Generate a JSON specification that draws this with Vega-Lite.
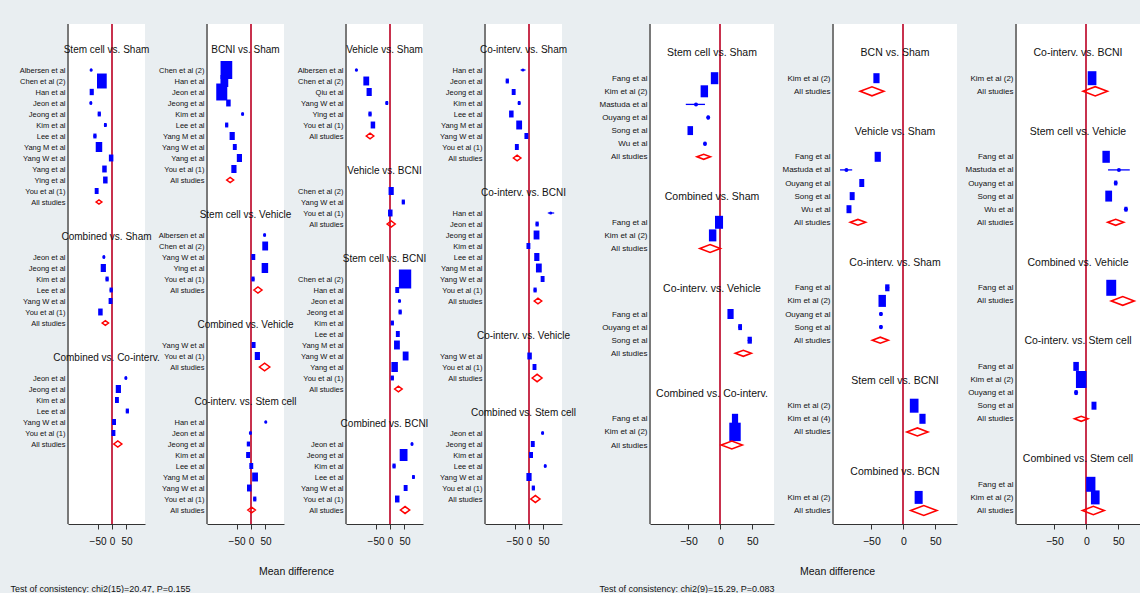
{
  "$schema": "https://vega.github.io/schema/vega-lite/v6.json",
  "background": "#e9eef1",
  "padding": {"left": 10, "top": 23, "right": 0, "bottom": 0},
  "data": {"values": [
    {"p":"L1","g":"Stem cell vs. Sham","s":"","t":"title"},
    {"p":"L1","g":"Stem cell vs. Sham","s":"gap1","t":"gap"},
    {"p":"L1","g":"Stem cell vs. Sham","s":"Albersen et al","t":"study","md":-72,"w":2},
    {"p":"L1","g":"Stem cell vs. Sham","s":"Chen et al (2)","t":"study","md":-35,"w":56},
    {"p":"L1","g":"Stem cell vs. Sham","s":"Han et al","t":"study","md":-70,"w":10},
    {"p":"L1","g":"Stem cell vs. Sham","s":"Jeon et al","t":"study","md":-73,"w":3},
    {"p":"L1","g":"Stem cell vs. Sham","s":"Jeong et al","t":"study","md":-44,"w":6},
    {"p":"L1","g":"Stem cell vs. Sham","s":"Kim et al","t":"study","md":-23,"w":4},
    {"p":"L1","g":"Stem cell vs. Sham","s":"Lee et al","t":"study","md":-59,"w":6},
    {"p":"L1","g":"Stem cell vs. Sham","s":"Yang M et al","t":"study","md":-45,"w":25},
    {"p":"L1","g":"Stem cell vs. Sham","s":"Yang W et al","t":"study","md":-3,"w":12},
    {"p":"L1","g":"Stem cell vs. Sham","s":"Yang et al","t":"study","md":-26,"w":12},
    {"p":"L1","g":"Stem cell vs. Sham","s":"Ying et al","t":"study","md":-23,"w":12},
    {"p":"L1","g":"Stem cell vs. Sham","s":"You et al (1)","t":"study","md":-53,"w":9},
    {"p":"L1","g":"Stem cell vs. Sham","s":"All studies","t":"pooled","md":-45,"lo":-55,"hi":-35},
    {"p":"L1","g":"Stem cell vs. Sham","s":"gap2","t":"gap"},
    {"p":"L1","g":"Stem cell vs. Sham","s":"gap3","t":"gap"},
    {"p":"L1","g":"Combined vs. Sham","s":"","t":"title"},
    {"p":"L1","g":"Combined vs. Sham","s":"gap1","t":"gap"},
    {"p":"L1","g":"Combined vs. Sham","s":"Jeon et al","t":"study","md":-28,"w":3},
    {"p":"L1","g":"Combined vs. Sham","s":"Jeong et al","t":"study","md":-30,"w":16},
    {"p":"L1","g":"Combined vs. Sham","s":"Kim et al","t":"study","md":-17,"w":6},
    {"p":"L1","g":"Combined vs. Sham","s":"Lee et al","t":"study","md":-3,"w":6},
    {"p":"L1","g":"Combined vs. Sham","s":"Yang W et al","t":"study","md":-5,"w":9},
    {"p":"L1","g":"Combined vs. Sham","s":"You et al (1)","t":"study","md":-40,"w":12},
    {"p":"L1","g":"Combined vs. Sham","s":"All studies","t":"pooled","md":-23,"lo":-34,"hi":-12},
    {"p":"L1","g":"Combined vs. Sham","s":"gap2","t":"gap"},
    {"p":"L1","g":"Combined vs. Sham","s":"gap3","t":"gap"},
    {"p":"L1","g":"Combined vs. Co-interv.","s":"","t":"title"},
    {"p":"L1","g":"Combined vs. Co-interv.","s":"gap1","t":"gap"},
    {"p":"L1","g":"Combined vs. Co-interv.","s":"Jeon et al","t":"study","md":48,"w":3},
    {"p":"L1","g":"Combined vs. Co-interv.","s":"Jeong et al","t":"study","md":22,"w":16},
    {"p":"L1","g":"Combined vs. Co-interv.","s":"Kim et al","t":"study","md":17,"w":9},
    {"p":"L1","g":"Combined vs. Co-interv.","s":"Lee et al","t":"study","md":53,"w":6},
    {"p":"L1","g":"Combined vs. Co-interv.","s":"Yang W et al","t":"study","md":7,"w":9},
    {"p":"L1","g":"Combined vs. Co-interv.","s":"You et al (1)","t":"study","md":5,"w":9},
    {"p":"L1","g":"Combined vs. Co-interv.","s":"All studies","t":"pooled","md":20,"lo":6,"hi":34},

    {"p":"L2","g":"BCNI vs. Sham","s":"","t":"title"},
    {"p":"L2","g":"BCNI vs. Sham","s":"gap1","t":"gap"},
    {"p":"L2","g":"BCNI vs. Sham","s":"Chen et al (2)","t":"study","md":-85,"w":81},
    {"p":"L2","g":"BCNI vs. Sham","s":"Han et al","t":"study","md":-92,"w":36},
    {"p":"L2","g":"BCNI vs. Sham","s":"Jeon et al","t":"study","md":-101,"w":72},
    {"p":"L2","g":"BCNI vs. Sham","s":"Jeong et al","t":"study","md":-78,"w":12},
    {"p":"L2","g":"BCNI vs. Sham","s":"Kim et al","t":"study","md":-29,"w":3},
    {"p":"L2","g":"BCNI vs. Sham","s":"Lee et al","t":"study","md":-84,"w":6},
    {"p":"L2","g":"BCNI vs. Sham","s":"Yang M et al","t":"study","md":-65,"w":16},
    {"p":"L2","g":"BCNI vs. Sham","s":"Yang W et al","t":"study","md":-56,"w":9},
    {"p":"L2","g":"BCNI vs. Sham","s":"Yang et al","t":"study","md":-40,"w":16},
    {"p":"L2","g":"BCNI vs. Sham","s":"You et al (1)","t":"study","md":-59,"w":16},
    {"p":"L2","g":"BCNI vs. Sham","s":"All studies","t":"pooled","md":-72,"lo":-84,"hi":-60},
    {"p":"L2","g":"BCNI vs. Sham","s":"gap2","t":"gap"},
    {"p":"L2","g":"BCNI vs. Sham","s":"gap3","t":"gap"},
    {"p":"L2","g":"Stem cell vs. Vehicle","s":"","t":"title"},
    {"p":"L2","g":"Stem cell vs. Vehicle","s":"gap1","t":"gap"},
    {"p":"L2","g":"Stem cell vs. Vehicle","s":"Albersen et al","t":"study","md":47,"w":3},
    {"p":"L2","g":"Stem cell vs. Vehicle","s":"Chen et al (2)","t":"study","md":49,"w":20},
    {"p":"L2","g":"Stem cell vs. Vehicle","s":"Yang W et al","t":"study","md":8,"w":9},
    {"p":"L2","g":"Stem cell vs. Vehicle","s":"Ying et al","t":"study","md":48,"w":25},
    {"p":"L2","g":"Stem cell vs. Vehicle","s":"You et al (1)","t":"study","md":7,"w":6},
    {"p":"L2","g":"Stem cell vs. Vehicle","s":"All studies","t":"pooled","md":24,"lo":10,"hi":38},
    {"p":"L2","g":"Stem cell vs. Vehicle","s":"gap2","t":"gap"},
    {"p":"L2","g":"Stem cell vs. Vehicle","s":"gap3","t":"gap"},
    {"p":"L2","g":"Combined vs. Vehicle","s":"","t":"title"},
    {"p":"L2","g":"Combined vs. Vehicle","s":"gap1","t":"gap"},
    {"p":"L2","g":"Combined vs. Vehicle","s":"Yang W et al","t":"study","md":9,"w":9},
    {"p":"L2","g":"Combined vs. Vehicle","s":"You et al (1)","t":"study","md":22,"w":16},
    {"p":"L2","g":"Combined vs. Vehicle","s":"All studies","t":"pooled","md":47,"lo":29,"hi":65},
    {"p":"L2","g":"Combined vs. Vehicle","s":"gap2","t":"gap"},
    {"p":"L2","g":"Combined vs. Vehicle","s":"gap3","t":"gap"},
    {"p":"L2","g":"Co-interv. vs. Stem cell","s":"","t":"title"},
    {"p":"L2","g":"Co-interv. vs. Stem cell","s":"gap1","t":"gap"},
    {"p":"L2","g":"Co-interv. vs. Stem cell","s":"Han et al","t":"study","md":51,"w":2},
    {"p":"L2","g":"Co-interv. vs. Stem cell","s":"Jeon et al","t":"study","md":-2,"w":3},
    {"p":"L2","g":"Co-interv. vs. Stem cell","s":"Jeong et al","t":"study","md":-9,"w":6},
    {"p":"L2","g":"Co-interv. vs. Stem cell","s":"Kim et al","t":"study","md":-10,"w":9},
    {"p":"L2","g":"Co-interv. vs. Stem cell","s":"Lee et al","t":"study","md":1,"w":9},
    {"p":"L2","g":"Co-interv. vs. Stem cell","s":"Yang M et al","t":"study","md":14,"w":20},
    {"p":"L2","g":"Co-interv. vs. Stem cell","s":"Yang W et al","t":"study","md":-6,"w":12},
    {"p":"L2","g":"Co-interv. vs. Stem cell","s":"You et al (1)","t":"study","md":13,"w":6},
    {"p":"L2","g":"Co-interv. vs. Stem cell","s":"All studies","t":"pooled","md":2,"lo":-11,"hi":15},

    {"p":"L3","g":"Vehicle vs. Sham","s":"","t":"title"},
    {"p":"L3","g":"Vehicle vs. Sham","s":"gap1","t":"gap"},
    {"p":"L3","g":"Vehicle vs. Sham","s":"Albersen et al","t":"study","md":-116,"w":2},
    {"p":"L3","g":"Vehicle vs. Sham","s":"Chen et al (2)","t":"study","md":-82,"w":20},
    {"p":"L3","g":"Vehicle vs. Sham","s":"Qiu et al","t":"study","md":-72,"w":16},
    {"p":"L3","g":"Vehicle vs. Sham","s":"Yang W et al","t":"study","md":-11,"w":4},
    {"p":"L3","g":"Vehicle vs. Sham","s":"Ying et al","t":"study","md":-69,"w":6},
    {"p":"L3","g":"Vehicle vs. Sham","s":"You et al (1)","t":"study","md":-59,"w":12},
    {"p":"L3","g":"Vehicle vs. Sham","s":"All studies","t":"pooled","md":-69,"lo":-82,"hi":-56},
    {"p":"L3","g":"Vehicle vs. Sham","s":"gap2","t":"gap"},
    {"p":"L3","g":"Vehicle vs. Sham","s":"gap3","t":"gap"},
    {"p":"L3","g":"Vehicle vs. BCNI","s":"","t":"title"},
    {"p":"L3","g":"Vehicle vs. BCNI","s":"gap1","t":"gap"},
    {"p":"L3","g":"Vehicle vs. BCNI","s":"Chen et al (2)","t":"study","md":4,"w":16},
    {"p":"L3","g":"Vehicle vs. BCNI","s":"Yang W et al","t":"study","md":46,"w":6},
    {"p":"L3","g":"Vehicle vs. BCNI","s":"You et al (1)","t":"study","md":1,"w":12},
    {"p":"L3","g":"Vehicle vs. BCNI","s":"All studies","t":"pooled","md":4,"lo":-10,"hi":18},
    {"p":"L3","g":"Vehicle vs. BCNI","s":"gap2","t":"gap"},
    {"p":"L3","g":"Vehicle vs. BCNI","s":"gap3","t":"gap"},
    {"p":"L3","g":"Stem cell vs. BCNI","s":"","t":"title"},
    {"p":"L3","g":"Stem cell vs. BCNI","s":"gap1","t":"gap"},
    {"p":"L3","g":"Stem cell vs. BCNI","s":"Chen et al (2)","t":"study","md":52,"w":90},
    {"p":"L3","g":"Stem cell vs. BCNI","s":"Han et al","t":"study","md":25,"w":9},
    {"p":"L3","g":"Stem cell vs. BCNI","s":"Jeon et al","t":"study","md":33,"w":3},
    {"p":"L3","g":"Stem cell vs. BCNI","s":"Jeong et al","t":"study","md":35,"w":6},
    {"p":"L3","g":"Stem cell vs. BCNI","s":"Kim et al","t":"study","md":8,"w":6},
    {"p":"L3","g":"Stem cell vs. BCNI","s":"Lee et al","t":"study","md":27,"w":9},
    {"p":"L3","g":"Stem cell vs. BCNI","s":"Yang M et al","t":"study","md":24,"w":20},
    {"p":"L3","g":"Stem cell vs. BCNI","s":"Yang W et al","t":"study","md":54,"w":20},
    {"p":"L3","g":"Stem cell vs. BCNI","s":"Yang et al","t":"study","md":16,"w":25},
    {"p":"L3","g":"Stem cell vs. BCNI","s":"You et al (1)","t":"study","md":8,"w":6},
    {"p":"L3","g":"Stem cell vs. BCNI","s":"All studies","t":"pooled","md":29,"lo":16,"hi":42},
    {"p":"L3","g":"Stem cell vs. BCNI","s":"gap2","t":"gap"},
    {"p":"L3","g":"Stem cell vs. BCNI","s":"gap3","t":"gap"},
    {"p":"L3","g":"Combined vs. BCNI","s":"","t":"title"},
    {"p":"L3","g":"Combined vs. BCNI","s":"gap1","t":"gap"},
    {"p":"L3","g":"Combined vs. BCNI","s":"Jeon et al","t":"study","md":76,"w":3},
    {"p":"L3","g":"Combined vs. BCNI","s":"Jeong et al","t":"study","md":47,"w":36},
    {"p":"L3","g":"Combined vs. BCNI","s":"Kim et al","t":"study","md":14,"w":6},
    {"p":"L3","g":"Combined vs. BCNI","s":"Lee et al","t":"study","md":81,"w":4},
    {"p":"L3","g":"Combined vs. BCNI","s":"Yang W et al","t":"study","md":54,"w":9},
    {"p":"L3","g":"Combined vs. BCNI","s":"You et al (1)","t":"study","md":25,"w":12},
    {"p":"L3","g":"Combined vs. BCNI","s":"All studies","t":"pooled","md":52,"lo":36,"hi":68},

    {"p":"L4","g":"Co-interv. vs. Sham","s":"","t":"title"},
    {"p":"L4","g":"Co-interv. vs. Sham","s":"gap1","t":"gap"},
    {"p":"L4","g":"Co-interv. vs. Sham","s":"Han et al","t":"study","md":-21,"w":1,"lo":-29,"hi":-12},
    {"p":"L4","g":"Co-interv. vs. Sham","s":"Jeon et al","t":"study","md":-75,"w":6},
    {"p":"L4","g":"Co-interv. vs. Sham","s":"Jeong et al","t":"study","md":-53,"w":9},
    {"p":"L4","g":"Co-interv. vs. Sham","s":"Kim et al","t":"study","md":-34,"w":4},
    {"p":"L4","g":"Co-interv. vs. Sham","s":"Lee et al","t":"study","md":-61,"w":12},
    {"p":"L4","g":"Co-interv. vs. Sham","s":"Yang M et al","t":"study","md":-34,"w":20},
    {"p":"L4","g":"Co-interv. vs. Sham","s":"Yang W et al","t":"study","md":-9,"w":9},
    {"p":"L4","g":"Co-interv. vs. Sham","s":"You et al (1)","t":"study","md":-42,"w":9},
    {"p":"L4","g":"Co-interv. vs. Sham","s":"All studies","t":"pooled","md":-41,"lo":-54,"hi":-28},
    {"p":"L4","g":"Co-interv. vs. Sham","s":"gap2","t":"gap"},
    {"p":"L4","g":"Co-interv. vs. Sham","s":"gap3","t":"gap"},
    {"p":"L4","g":"Co-interv. vs. BCNI","s":"","t":"title"},
    {"p":"L4","g":"Co-interv. vs. BCNI","s":"gap1","t":"gap"},
    {"p":"L4","g":"Co-interv. vs. BCNI","s":"Han et al","t":"study","md":75,"w":1,"lo":65,"hi":87},
    {"p":"L4","g":"Co-interv. vs. BCNI","s":"Jeon et al","t":"study","md":28,"w":6},
    {"p":"L4","g":"Co-interv. vs. BCNI","s":"Jeong et al","t":"study","md":26,"w":20},
    {"p":"L4","g":"Co-interv. vs. BCNI","s":"Kim et al","t":"study","md":-2,"w":9},
    {"p":"L4","g":"Co-interv. vs. BCNI","s":"Lee et al","t":"study","md":27,"w":16},
    {"p":"L4","g":"Co-interv. vs. BCNI","s":"Yang M et al","t":"study","md":34,"w":20},
    {"p":"L4","g":"Co-interv. vs. BCNI","s":"Yang W et al","t":"study","md":47,"w":9},
    {"p":"L4","g":"Co-interv. vs. BCNI","s":"You et al (1)","t":"study","md":21,"w":6},
    {"p":"L4","g":"Co-interv. vs. BCNI","s":"All studies","t":"pooled","md":31,"lo":18,"hi":44},
    {"p":"L4","g":"Co-interv. vs. BCNI","s":"gap2","t":"gap"},
    {"p":"L4","g":"Co-interv. vs. BCNI","s":"gap3","t":"gap"},
    {"p":"L4","g":"Co-interv. vs. Vehicle","s":"","t":"title"},
    {"p":"L4","g":"Co-interv. vs. Vehicle","s":"gap1","t":"gap"},
    {"p":"L4","g":"Co-interv. vs. Vehicle","s":"Yang W et al","t":"study","md":2,"w":12},
    {"p":"L4","g":"Co-interv. vs. Vehicle","s":"You et al (1)","t":"study","md":19,"w":9},
    {"p":"L4","g":"Co-interv. vs. Vehicle","s":"All studies","t":"pooled","md":28,"lo":11,"hi":45},
    {"p":"L4","g":"Co-interv. vs. Vehicle","s":"gap2","t":"gap"},
    {"p":"L4","g":"Co-interv. vs. Vehicle","s":"gap3","t":"gap"},
    {"p":"L4","g":"Combined vs. Stem cell","s":"","t":"title"},
    {"p":"L4","g":"Combined vs. Stem cell","s":"gap1","t":"gap"},
    {"p":"L4","g":"Combined vs. Stem cell","s":"Jeon et al","t":"study","md":47,"w":3},
    {"p":"L4","g":"Combined vs. Stem cell","s":"Jeong et al","t":"study","md":13,"w":9},
    {"p":"L4","g":"Combined vs. Stem cell","s":"Kim et al","t":"study","md":7,"w":9},
    {"p":"L4","g":"Combined vs. Stem cell","s":"Lee et al","t":"study","md":56,"w":3},
    {"p":"L4","g":"Combined vs. Stem cell","s":"Yang W et al","t":"study","md":0,"w":16},
    {"p":"L4","g":"Combined vs. Stem cell","s":"You et al (1)","t":"study","md":15,"w":6},
    {"p":"L4","g":"Combined vs. Stem cell","s":"All studies","t":"pooled","md":22,"lo":6,"hi":38},

    {"p":"R1","g":"Stem cell vs. Sham","s":"","t":"title"},
    {"p":"R1","g":"Stem cell vs. Sham","s":"gap1","t":"gap"},
    {"p":"R1","g":"Stem cell vs. Sham","s":"Fang et al","t":"study","md":-9,"w":36},
    {"p":"R1","g":"Stem cell vs. Sham","s":"Kim et al (2)","t":"study","md":-25,"w":36},
    {"p":"R1","g":"Stem cell vs. Sham","s":"Mastuda et al","t":"study","md":-38,"w":1,"lo":-54,"hi":-24},
    {"p":"R1","g":"Stem cell vs. Sham","s":"Ouyang et al","t":"study","md":-19,"w":4},
    {"p":"R1","g":"Stem cell vs. Sham","s":"Song et al","t":"study","md":-47,"w":20},
    {"p":"R1","g":"Stem cell vs. Sham","s":"Wu et al","t":"study","md":-24,"w":4},
    {"p":"R1","g":"Stem cell vs. Sham","s":"All studies","t":"pooled","md":-26,"lo":-37,"hi":-16},
    {"p":"R1","g":"Stem cell vs. Sham","s":"gap2","t":"gap"},
    {"p":"R1","g":"Stem cell vs. Sham","s":"gap3","t":"gap"},
    {"p":"R1","g":"Combined vs. Sham","s":"","t":"title"},
    {"p":"R1","g":"Combined vs. Sham","s":"gap1","t":"gap"},
    {"p":"R1","g":"Combined vs. Sham","s":"Fang et al","t":"study","md":-2,"w":42},
    {"p":"R1","g":"Combined vs. Sham","s":"Kim et al (2)","t":"study","md":-12,"w":36},
    {"p":"R1","g":"Combined vs. Sham","s":"All studies","t":"pooled","md":-16,"lo":-32,"hi":0},
    {"p":"R1","g":"Combined vs. Sham","s":"gap2","t":"gap"},
    {"p":"R1","g":"Combined vs. Sham","s":"gap3","t":"gap"},
    {"p":"R1","g":"Co-interv. vs. Vehicle","s":"","t":"title"},
    {"p":"R1","g":"Co-interv. vs. Vehicle","s":"gap1","t":"gap"},
    {"p":"R1","g":"Co-interv. vs. Vehicle","s":"Fang et al","t":"study","md":16,"w":25},
    {"p":"R1","g":"Co-interv. vs. Vehicle","s":"Ouyang et al","t":"study","md":31,"w":9},
    {"p":"R1","g":"Co-interv. vs. Vehicle","s":"Song et al","t":"study","md":46,"w":12},
    {"p":"R1","g":"Co-interv. vs. Vehicle","s":"All studies","t":"pooled","md":36,"lo":24,"hi":49},
    {"p":"R1","g":"Co-interv. vs. Vehicle","s":"gap2","t":"gap"},
    {"p":"R1","g":"Co-interv. vs. Vehicle","s":"gap3","t":"gap"},
    {"p":"R1","g":"Combined vs. Co-interv.","s":"","t":"title"},
    {"p":"R1","g":"Combined vs. Co-interv.","s":"gap1","t":"gap"},
    {"p":"R1","g":"Combined vs. Co-interv.","s":"Fang et al","t":"study","md":23,"w":25},
    {"p":"R1","g":"Combined vs. Co-interv.","s":"Kim et al (2)","t":"study","md":23,"w":85},
    {"p":"R1","g":"Combined vs. Co-interv.","s":"All studies","t":"pooled","md":18,"lo":4,"hi":37},

    {"p":"R2","g":"BCN vs. Sham","s":"","t":"title"},
    {"p":"R2","g":"BCN vs. Sham","s":"gap1","t":"gap"},
    {"p":"R2","g":"BCN vs. Sham","s":"Kim et al (2)","t":"study","md":-42,"w":25},
    {"p":"R2","g":"BCN vs. Sham","s":"All studies","t":"pooled","md":-49,"lo":-67,"hi":-30},
    {"p":"R2","g":"BCN vs. Sham","s":"gap2","t":"gap"},
    {"p":"R2","g":"BCN vs. Sham","s":"gap3","t":"gap"},
    {"p":"R2","g":"Vehicle vs. Sham","s":"","t":"title"},
    {"p":"R2","g":"Vehicle vs. Sham","s":"gap1","t":"gap"},
    {"p":"R2","g":"Vehicle vs. Sham","s":"Fang et al","t":"study","md":-40,"w":25},
    {"p":"R2","g":"Vehicle vs. Sham","s":"Mastuda et al","t":"study","md":-89,"w":1,"lo":-99,"hi":-80},
    {"p":"R2","g":"Vehicle vs. Sham","s":"Ouyang et al","t":"study","md":-65,"w":16},
    {"p":"R2","g":"Vehicle vs. Sham","s":"Song et al","t":"study","md":-80,"w":16},
    {"p":"R2","g":"Vehicle vs. Sham","s":"Wu et al","t":"study","md":-85,"w":16},
    {"p":"R2","g":"Vehicle vs. Sham","s":"All studies","t":"pooled","md":-71,"lo":-83,"hi":-59},
    {"p":"R2","g":"Vehicle vs. Sham","s":"gap2","t":"gap"},
    {"p":"R2","g":"Vehicle vs. Sham","s":"gap3","t":"gap"},
    {"p":"R2","g":"Co-interv. vs. Sham","s":"","t":"title"},
    {"p":"R2","g":"Co-interv. vs. Sham","s":"gap1","t":"gap"},
    {"p":"R2","g":"Co-interv. vs. Sham","s":"Fang et al","t":"study","md":-25,"w":12},
    {"p":"R2","g":"Co-interv. vs. Sham","s":"Kim et al (2)","t":"study","md":-33,"w":36},
    {"p":"R2","g":"Co-interv. vs. Sham","s":"Ouyang et al","t":"study","md":-35,"w":4},
    {"p":"R2","g":"Co-interv. vs. Sham","s":"Song et al","t":"study","md":-35,"w":4},
    {"p":"R2","g":"Co-interv. vs. Sham","s":"All studies","t":"pooled","md":-36,"lo":-48,"hi":-23},
    {"p":"R2","g":"Co-interv. vs. Sham","s":"gap2","t":"gap"},
    {"p":"R2","g":"Co-interv. vs. Sham","s":"gap3","t":"gap"},
    {"p":"R2","g":"Stem cell vs. BCNI","s":"","t":"title"},
    {"p":"R2","g":"Stem cell vs. BCNI","s":"gap1","t":"gap"},
    {"p":"R2","g":"Stem cell vs. BCNI","s":"Kim et al (2)","t":"study","md":17,"w":49},
    {"p":"R2","g":"Stem cell vs. BCNI","s":"Kim et al (4)","t":"study","md":30,"w":25},
    {"p":"R2","g":"Stem cell vs. BCNI","s":"All studies","t":"pooled","md":22,"lo":5,"hi":38},
    {"p":"R2","g":"Stem cell vs. BCNI","s":"gap2","t":"gap"},
    {"p":"R2","g":"Stem cell vs. BCNI","s":"gap3","t":"gap"},
    {"p":"R2","g":"Combined vs. BCN","s":"","t":"title"},
    {"p":"R2","g":"Combined vs. BCN","s":"gap1","t":"gap"},
    {"p":"R2","g":"Combined vs. BCN","s":"Kim et al (2)","t":"study","md":24,"w":42},
    {"p":"R2","g":"Combined vs. BCN","s":"All studies","t":"pooled","md":32,"lo":12,"hi":53},

    {"p":"R3","g":"Co-interv. vs. BCNI","s":"","t":"title"},
    {"p":"R3","g":"Co-interv. vs. BCNI","s":"gap1","t":"gap"},
    {"p":"R3","g":"Co-interv. vs. BCNI","s":"Kim et al (2)","t":"study","md":9,"w":49},
    {"p":"R3","g":"Co-interv. vs. BCNI","s":"All studies","t":"pooled","md":14,"lo":-5,"hi":33},
    {"p":"R3","g":"Co-interv. vs. BCNI","s":"gap2","t":"gap"},
    {"p":"R3","g":"Co-interv. vs. BCNI","s":"gap3","t":"gap"},
    {"p":"R3","g":"Stem cell vs. Vehicle","s":"","t":"title"},
    {"p":"R3","g":"Stem cell vs. Vehicle","s":"gap1","t":"gap"},
    {"p":"R3","g":"Stem cell vs. Vehicle","s":"Fang et al","t":"study","md":31,"w":36},
    {"p":"R3","g":"Stem cell vs. Vehicle","s":"Mastuda et al","t":"study","md":51,"w":1,"lo":34,"hi":68},
    {"p":"R3","g":"Stem cell vs. Vehicle","s":"Ouyang et al","t":"study","md":46,"w":6},
    {"p":"R3","g":"Stem cell vs. Vehicle","s":"Song et al","t":"study","md":35,"w":30},
    {"p":"R3","g":"Stem cell vs. Vehicle","s":"Wu et al","t":"study","md":62,"w":6},
    {"p":"R3","g":"Stem cell vs. Vehicle","s":"All studies","t":"pooled","md":46,"lo":32,"hi":57},
    {"p":"R3","g":"Stem cell vs. Vehicle","s":"gap2","t":"gap"},
    {"p":"R3","g":"Stem cell vs. Vehicle","s":"gap3","t":"gap"},
    {"p":"R3","g":"Combined vs. Vehicle","s":"","t":"title"},
    {"p":"R3","g":"Combined vs. Vehicle","s":"gap1","t":"gap"},
    {"p":"R3","g":"Combined vs. Vehicle","s":"Fang et al","t":"study","md":39,"w":64},
    {"p":"R3","g":"Combined vs. Vehicle","s":"All studies","t":"pooled","md":57,"lo":39,"hi":75},
    {"p":"R3","g":"Combined vs. Vehicle","s":"gap2","t":"gap"},
    {"p":"R3","g":"Combined vs. Vehicle","s":"gap3","t":"gap"},
    {"p":"R3","g":"Co-interv. vs. Stem cell","s":"","t":"title"},
    {"p":"R3","g":"Co-interv. vs. Stem cell","s":"gap1","t":"gap"},
    {"p":"R3","g":"Co-interv. vs. Stem cell","s":"Fang et al","t":"study","md":-16,"w":20},
    {"p":"R3","g":"Co-interv. vs. Stem cell","s":"Kim et al (2)","t":"study","md":-8,"w":72},
    {"p":"R3","g":"Co-interv. vs. Stem cell","s":"Ouyang et al","t":"study","md":-16,"w":6},
    {"p":"R3","g":"Co-interv. vs. Stem cell","s":"Song et al","t":"study","md":12,"w":16},
    {"p":"R3","g":"Co-interv. vs. Stem cell","s":"All studies","t":"pooled","md":-8,"lo":-18,"hi":3},
    {"p":"R3","g":"Co-interv. vs. Stem cell","s":"gap2","t":"gap"},
    {"p":"R3","g":"Co-interv. vs. Stem cell","s":"gap3","t":"gap"},
    {"p":"R3","g":"Combined vs. Stem cell","s":"","t":"title"},
    {"p":"R3","g":"Combined vs. Stem cell","s":"gap1","t":"gap"},
    {"p":"R3","g":"Combined vs. Stem cell","s":"Fang et al","t":"study","md":7,"w":56},
    {"p":"R3","g":"Combined vs. Stem cell","s":"Kim et al (2)","t":"study","md":14,"w":49},
    {"p":"R3","g":"Combined vs. Stem cell","s":"All studies","t":"pooled","md":11,"lo":-5,"hi":29}
  ]},
  "spacing": 21,
  "hconcat": [
    {
      "spacing": 62,
      "bounds": "flush",
      "hconcat": [
        {
          "width": 77, "height": 500,
          "transform": [{"filter": "datum.p === 'L1'"}, {"calculate": "datum.g + '|' + datum.s", "as": "k"}],
          "resolve": {"scale": {"size": "independent"}},
          "layer": [
            {"mark": {"type": "rule", "color": "#7a7a7a", "strokeWidth": 1.5},
             "encoding": {"x": {"datum": -152, "type": "quantitative",
               "scale": {"domain": [-152, 114], "nice": false, "zero": false},
               "axis": {"values": [-50, 0, 50], "tickCount": 5, "grid": false, "domainColor": "#333", "domainWidth": 1.2, "tickColor": "#333", "tickSize": 5, "labelFontSize": 10, "labelColor": "#111", "labelPadding": 7, "labelOverlap": false, "labelFlush": false,
                 "title": "Test of consistency: chi2(15)=20.47, P=0.155", "titleFontSize": 9, "titleFontWeight": "normal", "titleColor": "#111", "titleAlign": "left", "titleBaseline": "middle", "titleX": -58, "titleY": 64}}}},
            {"mark": {"type": "rule", "color": "#c8324e", "strokeWidth": 1.3},
             "encoding": {"x": {"datum": 0, "type": "quantitative"}}},
            {"mark": {"type": "text", "fontSize": 10, "baseline": "middle", "dy": 2, "color": "#111"},
             "encoding": {"x": {"datum": -19, "type": "quantitative"},
               "y": {"field": "k", "type": "ordinal", "sort": null, "scale": {"type": "point", "range": [24, 420], "padding": 0},
                 "axis": {"domain": false, "ticks": false, "grid": false, "title": null, "labelFontSize": 7.5, "labelColor": "#111", "labelPadding": 3, "labelLimit": 200,
                   "labelExpr": "indexof(datum.value, '|gap') >= 0 ? '' : split(datum.value, '|')[1]"}},
               "text": {"condition": {"test": "datum.t === 'title'", "field": "g"}, "value": ""}}},
            {"transform": [{"filter": "datum.t === 'study' && isValid(datum.lo)"}],
             "mark": {"type": "rule", "color": "#0000ff", "strokeWidth": 1.2},
             "encoding": {"x": {"field": "lo", "type": "quantitative"}, "x2": {"field": "hi"},
               "y": {"field": "k", "type": "ordinal", "sort": null}}},
            {"transform": [{"filter": "datum.t === 'study'"}],
             "mark": {"type": "point", "shape": "M-0.65,-1H0.65V1H-0.65Z", "filled": true, "color": "#0000ff", "opacity": 1},
             "encoding": {"x": {"field": "md", "type": "quantitative"},
               "y": {"field": "k", "type": "ordinal", "sort": null},
               "size": {"field": "w", "type": "quantitative", "scale": {"domain": [0, 100], "range": [0, 400]}, "legend": null}}},
            {"transform": [{"filter": "datum.t === 'study'"}],
             "mark": {"type": "circle", "color": "#0000ff", "opacity": 1, "size": 10},
             "encoding": {"x": {"field": "md", "type": "quantitative"},
               "y": {"field": "k", "type": "ordinal", "sort": null}}},
            {"transform": [{"filter": "datum.t === 'pooled'"}, {"calculate": "datum.hi - datum.lo", "as": "ciw"}],
             "mark": {"type": "point", "shape": "M-1,0L0,-0.75L1,0L0,0.75Z", "filled": false, "color": "#ff0000", "strokeWidth": 1.5, "opacity": 1},
             "encoding": {"x": {"field": "md", "type": "quantitative"},
               "y": {"field": "k", "type": "ordinal", "sort": null},
               "size": {"field": "ciw", "type": "quantitative", "scale": {"type": "pow", "exponent": 2, "domain": [0, 100], "range": [0, 838]}, "legend": null}}}
          ]
        },
        {
          "width": 77, "height": 500,
          "transform": [{"filter": "datum.p === 'L2'"}, {"calculate": "datum.g + '|' + datum.s", "as": "k"}],
          "resolve": {"scale": {"size": "independent"}},
          "layer": [
            {"mark": {"type": "rule", "color": "#7a7a7a", "strokeWidth": 1.5},
             "encoding": {"x": {"datum": -152, "type": "quantitative",
               "scale": {"domain": [-152, 114], "nice": false, "zero": false},
               "axis": {"values": [-50, 0, 50], "tickCount": 5, "grid": false, "domainColor": "#333", "domainWidth": 1.2, "tickColor": "#333", "tickSize": 5, "labelFontSize": 10, "labelColor": "#111", "labelPadding": 7, "labelOverlap": false, "labelFlush": false,
                 "title": "Mean difference", "titleFontSize": 10.5, "titleFontWeight": "normal", "titleColor": "#111", "titleAlign": "center", "titleBaseline": "middle", "titleX": 89, "titleY": 47}}}},
            {"mark": {"type": "rule", "color": "#c8324e", "strokeWidth": 1.3},
             "encoding": {"x": {"datum": 0, "type": "quantitative"}}},
            {"mark": {"type": "text", "fontSize": 10, "baseline": "middle", "dy": 2, "color": "#111"},
             "encoding": {"x": {"datum": -19, "type": "quantitative"},
               "y": {"field": "k", "type": "ordinal", "sort": null, "scale": {"type": "point", "range": [24, 486], "padding": 0},
                 "axis": {"domain": false, "ticks": false, "grid": false, "title": null, "labelFontSize": 7.5, "labelColor": "#111", "labelPadding": 3, "labelLimit": 200,
                   "labelExpr": "indexof(datum.value, '|gap') >= 0 ? '' : split(datum.value, '|')[1]"}},
               "text": {"condition": {"test": "datum.t === 'title'", "field": "g"}, "value": ""}}},
            {"transform": [{"filter": "datum.t === 'study' && isValid(datum.lo)"}],
             "mark": {"type": "rule", "color": "#0000ff", "strokeWidth": 1.2},
             "encoding": {"x": {"field": "lo", "type": "quantitative"}, "x2": {"field": "hi"},
               "y": {"field": "k", "type": "ordinal", "sort": null}}},
            {"transform": [{"filter": "datum.t === 'study'"}],
             "mark": {"type": "point", "shape": "M-0.65,-1H0.65V1H-0.65Z", "filled": true, "color": "#0000ff", "opacity": 1},
             "encoding": {"x": {"field": "md", "type": "quantitative"},
               "y": {"field": "k", "type": "ordinal", "sort": null},
               "size": {"field": "w", "type": "quantitative", "scale": {"domain": [0, 100], "range": [0, 400]}, "legend": null}}},
            {"transform": [{"filter": "datum.t === 'study'"}],
             "mark": {"type": "circle", "color": "#0000ff", "opacity": 1, "size": 10},
             "encoding": {"x": {"field": "md", "type": "quantitative"},
               "y": {"field": "k", "type": "ordinal", "sort": null}}},
            {"transform": [{"filter": "datum.t === 'pooled'"}, {"calculate": "datum.hi - datum.lo", "as": "ciw"}],
             "mark": {"type": "point", "shape": "M-1,0L0,-0.75L1,0L0,0.75Z", "filled": false, "color": "#ff0000", "strokeWidth": 1.5, "opacity": 1},
             "encoding": {"x": {"field": "md", "type": "quantitative"},
               "y": {"field": "k", "type": "ordinal", "sort": null},
               "size": {"field": "ciw", "type": "quantitative", "scale": {"type": "pow", "exponent": 2, "domain": [0, 100], "range": [0, 838]}, "legend": null}}}
          ]
        },
        {
          "width": 77, "height": 500,
          "transform": [{"filter": "datum.p === 'L3'"}, {"calculate": "datum.g + '|' + datum.s", "as": "k"}],
          "resolve": {"scale": {"size": "independent"}},
          "layer": [
            {"mark": {"type": "rule", "color": "#7a7a7a", "strokeWidth": 1.5},
             "encoding": {"x": {"datum": -152, "type": "quantitative",
               "scale": {"domain": [-152, 114], "nice": false, "zero": false},
               "axis": {"values": [-50, 0, 50], "tickCount": 5, "grid": false, "domainColor": "#333", "domainWidth": 1.2, "tickColor": "#333", "tickSize": 5, "labelFontSize": 10, "labelColor": "#111", "labelPadding": 7, "labelOverlap": false, "labelFlush": false, "title": null}}}},
            {"mark": {"type": "rule", "color": "#c8324e", "strokeWidth": 1.3},
             "encoding": {"x": {"datum": 0, "type": "quantitative"}}},
            {"mark": {"type": "text", "fontSize": 10, "baseline": "middle", "dy": 2, "color": "#111"},
             "encoding": {"x": {"datum": -19, "type": "quantitative"},
               "y": {"field": "k", "type": "ordinal", "sort": null, "scale": {"type": "point", "range": [24, 486], "padding": 0},
                 "axis": {"domain": false, "ticks": false, "grid": false, "title": null, "labelFontSize": 7.5, "labelColor": "#111", "labelPadding": 3, "labelLimit": 200,
                   "labelExpr": "indexof(datum.value, '|gap') >= 0 ? '' : split(datum.value, '|')[1]"}},
               "text": {"condition": {"test": "datum.t === 'title'", "field": "g"}, "value": ""}}},
            {"transform": [{"filter": "datum.t === 'study' && isValid(datum.lo)"}],
             "mark": {"type": "rule", "color": "#0000ff", "strokeWidth": 1.2},
             "encoding": {"x": {"field": "lo", "type": "quantitative"}, "x2": {"field": "hi"},
               "y": {"field": "k", "type": "ordinal", "sort": null}}},
            {"transform": [{"filter": "datum.t === 'study'"}],
             "mark": {"type": "point", "shape": "M-0.65,-1H0.65V1H-0.65Z", "filled": true, "color": "#0000ff", "opacity": 1},
             "encoding": {"x": {"field": "md", "type": "quantitative"},
               "y": {"field": "k", "type": "ordinal", "sort": null},
               "size": {"field": "w", "type": "quantitative", "scale": {"domain": [0, 100], "range": [0, 400]}, "legend": null}}},
            {"transform": [{"filter": "datum.t === 'study'"}],
             "mark": {"type": "circle", "color": "#0000ff", "opacity": 1, "size": 10},
             "encoding": {"x": {"field": "md", "type": "quantitative"},
               "y": {"field": "k", "type": "ordinal", "sort": null}}},
            {"transform": [{"filter": "datum.t === 'pooled'"}, {"calculate": "datum.hi - datum.lo", "as": "ciw"}],
             "mark": {"type": "point", "shape": "M-1,0L0,-0.75L1,0L0,0.75Z", "filled": false, "color": "#ff0000", "strokeWidth": 1.5, "opacity": 1},
             "encoding": {"x": {"field": "md", "type": "quantitative"},
               "y": {"field": "k", "type": "ordinal", "sort": null},
               "size": {"field": "ciw", "type": "quantitative", "scale": {"type": "pow", "exponent": 2, "domain": [0, 100], "range": [0, 838]}, "legend": null}}}
          ]
        },
        {
          "width": 77, "height": 500,
          "transform": [{"filter": "datum.p === 'L4'"}, {"calculate": "datum.g + '|' + datum.s", "as": "k"}],
          "resolve": {"scale": {"size": "independent"}},
          "layer": [
            {"mark": {"type": "rule", "color": "#7a7a7a", "strokeWidth": 1.5},
             "encoding": {"x": {"datum": -152, "type": "quantitative",
               "scale": {"domain": [-152, 114], "nice": false, "zero": false},
               "axis": {"values": [-50, 0, 50], "tickCount": 5, "grid": false, "domainColor": "#333", "domainWidth": 1.2, "tickColor": "#333", "tickSize": 5, "labelFontSize": 10, "labelColor": "#111", "labelPadding": 7, "labelOverlap": false, "labelFlush": false, "title": null}}}},
            {"mark": {"type": "rule", "color": "#c8324e", "strokeWidth": 1.3},
             "encoding": {"x": {"datum": 0, "type": "quantitative"}}},
            {"mark": {"type": "text", "fontSize": 10, "baseline": "middle", "dy": 2, "color": "#111"},
             "encoding": {"x": {"datum": -19, "type": "quantitative"},
               "y": {"field": "k", "type": "ordinal", "sort": null, "scale": {"type": "point", "range": [24, 475], "padding": 0},
                 "axis": {"domain": false, "ticks": false, "grid": false, "title": null, "labelFontSize": 7.5, "labelColor": "#111", "labelPadding": 3, "labelLimit": 200,
                   "labelExpr": "indexof(datum.value, '|gap') >= 0 ? '' : split(datum.value, '|')[1]"}},
               "text": {"condition": {"test": "datum.t === 'title'", "field": "g"}, "value": ""}}},
            {"transform": [{"filter": "datum.t === 'study' && isValid(datum.lo)"}],
             "mark": {"type": "rule", "color": "#0000ff", "strokeWidth": 1.2},
             "encoding": {"x": {"field": "lo", "type": "quantitative"}, "x2": {"field": "hi"},
               "y": {"field": "k", "type": "ordinal", "sort": null}}},
            {"transform": [{"filter": "datum.t === 'study'"}],
             "mark": {"type": "point", "shape": "M-0.65,-1H0.65V1H-0.65Z", "filled": true, "color": "#0000ff", "opacity": 1},
             "encoding": {"x": {"field": "md", "type": "quantitative"},
               "y": {"field": "k", "type": "ordinal", "sort": null},
               "size": {"field": "w", "type": "quantitative", "scale": {"domain": [0, 100], "range": [0, 400]}, "legend": null}}},
            {"transform": [{"filter": "datum.t === 'study'"}],
             "mark": {"type": "circle", "color": "#0000ff", "opacity": 1, "size": 10},
             "encoding": {"x": {"field": "md", "type": "quantitative"},
               "y": {"field": "k", "type": "ordinal", "sort": null}}},
            {"transform": [{"filter": "datum.t === 'pooled'"}, {"calculate": "datum.hi - datum.lo", "as": "ciw"}],
             "mark": {"type": "point", "shape": "M-1,0L0,-0.75L1,0L0,0.75Z", "filled": false, "color": "#ff0000", "strokeWidth": 1.5, "opacity": 1},
             "encoding": {"x": {"field": "md", "type": "quantitative"},
               "y": {"field": "k", "type": "ordinal", "sort": null},
               "size": {"field": "ciw", "type": "quantitative", "scale": {"type": "pow", "exponent": 2, "domain": [0, 100], "range": [0, 838]}, "legend": null}}}
          ]
        }
      ]
    },
    {
      "spacing": 59,
      "bounds": "flush",
      "hconcat": [
        {
          "width": 124, "height": 500,
          "transform": [{"filter": "datum.p === 'R1'"}, {"calculate": "datum.g + '|' + datum.s", "as": "k"}],
          "resolve": {"scale": {"size": "independent"}},
          "layer": [
            {"mark": {"type": "rule", "color": "#7a7a7a", "strokeWidth": 1.5},
             "encoding": {"x": {"datum": -110, "type": "quantitative",
               "scale": {"domain": [-110, 84], "nice": false, "zero": false},
               "axis": {"values": [-50, 0, 50], "tickCount": 5, "grid": false, "domainColor": "#333", "domainWidth": 1.2, "tickColor": "#333", "tickSize": 5, "labelFontSize": 10.5, "labelColor": "#111", "labelPadding": 7, "labelOverlap": false, "labelFlush": false,
                 "title": "Test of consistency: chi2(9)=15.29, P=0.083", "titleFontSize": 9, "titleFontWeight": "normal", "titleColor": "#111", "titleAlign": "left", "titleBaseline": "middle", "titleX": -51, "titleY": 64}}}},
            {"mark": {"type": "rule", "color": "#c8324e", "strokeWidth": 1.3},
             "encoding": {"x": {"datum": 0, "type": "quantitative"}}},
            {"mark": {"type": "text", "fontSize": 10.5, "baseline": "middle", "dy": 1, "color": "#111"},
             "encoding": {"x": {"datum": -13, "type": "quantitative"},
               "y": {"field": "k", "type": "ordinal", "sort": null, "scale": {"type": "point", "range": [28, 421], "padding": 0},
                 "axis": {"domain": false, "ticks": false, "grid": false, "title": null, "labelFontSize": 8, "labelColor": "#111", "labelPadding": 3, "labelLimit": 200,
                   "labelExpr": "indexof(datum.value, '|gap') >= 0 ? '' : split(datum.value, '|')[1]"}},
               "text": {"condition": {"test": "datum.t === 'title'", "field": "g"}, "value": ""}}},
            {"transform": [{"filter": "datum.t === 'study' && isValid(datum.lo)"}],
             "mark": {"type": "rule", "color": "#0000ff", "strokeWidth": 1.3},
             "encoding": {"x": {"field": "lo", "type": "quantitative"}, "x2": {"field": "hi"},
               "y": {"field": "k", "type": "ordinal", "sort": null}}},
            {"transform": [{"filter": "datum.t === 'study'"}],
             "mark": {"type": "point", "shape": "M-0.62,-1H0.62V1H-0.62Z", "filled": true, "color": "#0000ff", "opacity": 1},
             "encoding": {"x": {"field": "md", "type": "quantitative"},
               "y": {"field": "k", "type": "ordinal", "sort": null},
               "size": {"field": "w", "type": "quantitative", "scale": {"domain": [0, 100], "range": [0, 400]}, "legend": null}}},
            {"transform": [{"filter": "datum.t === 'study'"}],
             "mark": {"type": "circle", "color": "#0000ff", "opacity": 1, "size": 16},
             "encoding": {"x": {"field": "md", "type": "quantitative"},
               "y": {"field": "k", "type": "ordinal", "sort": null}}},
            {"transform": [{"filter": "datum.t === 'pooled'"}, {"calculate": "datum.hi - datum.lo", "as": "ciw"}],
             "mark": {"type": "point", "shape": "M-1,0L0,-0.38L1,0L0,0.38Z", "filled": false, "color": "#ff0000", "strokeWidth": 1.6, "opacity": 1},
             "encoding": {"x": {"field": "md", "type": "quantitative"},
               "y": {"field": "k", "type": "ordinal", "sort": null},
               "size": {"field": "ciw", "type": "quantitative", "scale": {"type": "pow", "exponent": 2, "domain": [0, 100], "range": [0, 4085]}, "legend": null}}}
          ]
        },
        {
          "width": 124, "height": 500,
          "transform": [{"filter": "datum.p === 'R2'"}, {"calculate": "datum.g + '|' + datum.s", "as": "k"}],
          "resolve": {"scale": {"size": "independent"}},
          "layer": [
            {"mark": {"type": "rule", "color": "#7a7a7a", "strokeWidth": 1.5},
             "encoding": {"x": {"datum": -110, "type": "quantitative",
               "scale": {"domain": [-110, 84], "nice": false, "zero": false},
               "axis": {"values": [-50, 0, 50], "tickCount": 5, "grid": false, "domainColor": "#333", "domainWidth": 1.2, "tickColor": "#333", "tickSize": 5, "labelFontSize": 10.5, "labelColor": "#111", "labelPadding": 7, "labelOverlap": false, "labelFlush": false,
                 "title": "Mean difference", "titleFontSize": 10.5, "titleFontWeight": "normal", "titleColor": "#111", "titleAlign": "center", "titleBaseline": "middle", "titleX": 4, "titleY": 47}}}},
            {"mark": {"type": "rule", "color": "#c8324e", "strokeWidth": 1.3},
             "encoding": {"x": {"datum": 0, "type": "quantitative"}}},
            {"mark": {"type": "text", "fontSize": 10.5, "baseline": "middle", "dy": 1, "color": "#111"},
             "encoding": {"x": {"datum": -13, "type": "quantitative"},
               "y": {"field": "k", "type": "ordinal", "sort": null, "scale": {"type": "point", "range": [28, 486.5], "padding": 0},
                 "axis": {"domain": false, "ticks": false, "grid": false, "title": null, "labelFontSize": 8, "labelColor": "#111", "labelPadding": 3, "labelLimit": 200,
                   "labelExpr": "indexof(datum.value, '|gap') >= 0 ? '' : split(datum.value, '|')[1]"}},
               "text": {"condition": {"test": "datum.t === 'title'", "field": "g"}, "value": ""}}},
            {"transform": [{"filter": "datum.t === 'study' && isValid(datum.lo)"}],
             "mark": {"type": "rule", "color": "#0000ff", "strokeWidth": 1.3},
             "encoding": {"x": {"field": "lo", "type": "quantitative"}, "x2": {"field": "hi"},
               "y": {"field": "k", "type": "ordinal", "sort": null}}},
            {"transform": [{"filter": "datum.t === 'study'"}],
             "mark": {"type": "point", "shape": "M-0.62,-1H0.62V1H-0.62Z", "filled": true, "color": "#0000ff", "opacity": 1},
             "encoding": {"x": {"field": "md", "type": "quantitative"},
               "y": {"field": "k", "type": "ordinal", "sort": null},
               "size": {"field": "w", "type": "quantitative", "scale": {"domain": [0, 100], "range": [0, 400]}, "legend": null}}},
            {"transform": [{"filter": "datum.t === 'study'"}],
             "mark": {"type": "circle", "color": "#0000ff", "opacity": 1, "size": 16},
             "encoding": {"x": {"field": "md", "type": "quantitative"},
               "y": {"field": "k", "type": "ordinal", "sort": null}}},
            {"transform": [{"filter": "datum.t === 'pooled'"}, {"calculate": "datum.hi - datum.lo", "as": "ciw"}],
             "mark": {"type": "point", "shape": "M-1,0L0,-0.38L1,0L0,0.38Z", "filled": false, "color": "#ff0000", "strokeWidth": 1.6, "opacity": 1},
             "encoding": {"x": {"field": "md", "type": "quantitative"},
               "y": {"field": "k", "type": "ordinal", "sort": null},
               "size": {"field": "ciw", "type": "quantitative", "scale": {"type": "pow", "exponent": 2, "domain": [0, 100], "range": [0, 4085]}, "legend": null}}}
          ]
        },
        {
          "width": 124, "height": 500,
          "transform": [{"filter": "datum.p === 'R3'"}, {"calculate": "datum.g + '|' + datum.s", "as": "k"}],
          "resolve": {"scale": {"size": "independent"}},
          "layer": [
            {"mark": {"type": "rule", "color": "#7a7a7a", "strokeWidth": 1.5},
             "encoding": {"x": {"datum": -110, "type": "quantitative",
               "scale": {"domain": [-110, 84], "nice": false, "zero": false},
               "axis": {"values": [-50, 0, 50], "tickCount": 5, "grid": false, "domainColor": "#333", "domainWidth": 1.2, "tickColor": "#333", "tickSize": 5, "labelFontSize": 10.5, "labelColor": "#111", "labelPadding": 7, "labelOverlap": false, "labelFlush": false, "title": null}}}},
            {"mark": {"type": "rule", "color": "#c8324e", "strokeWidth": 1.3},
             "encoding": {"x": {"datum": 0, "type": "quantitative"}}},
            {"mark": {"type": "text", "fontSize": 10.5, "baseline": "middle", "dy": 1, "color": "#111"},
             "encoding": {"x": {"datum": -13, "type": "quantitative"},
               "y": {"field": "k", "type": "ordinal", "sort": null, "scale": {"type": "point", "range": [28, 486.5], "padding": 0},
                 "axis": {"domain": false, "ticks": false, "grid": false, "title": null, "labelFontSize": 8, "labelColor": "#111", "labelPadding": 3, "labelLimit": 200,
                   "labelExpr": "indexof(datum.value, '|gap') >= 0 ? '' : split(datum.value, '|')[1]"}},
               "text": {"condition": {"test": "datum.t === 'title'", "field": "g"}, "value": ""}}},
            {"transform": [{"filter": "datum.t === 'study' && isValid(datum.lo)"}],
             "mark": {"type": "rule", "color": "#0000ff", "strokeWidth": 1.3},
             "encoding": {"x": {"field": "lo", "type": "quantitative"}, "x2": {"field": "hi"},
               "y": {"field": "k", "type": "ordinal", "sort": null}}},
            {"transform": [{"filter": "datum.t === 'study'"}],
             "mark": {"type": "point", "shape": "M-0.62,-1H0.62V1H-0.62Z", "filled": true, "color": "#0000ff", "opacity": 1},
             "encoding": {"x": {"field": "md", "type": "quantitative"},
               "y": {"field": "k", "type": "ordinal", "sort": null},
               "size": {"field": "w", "type": "quantitative", "scale": {"domain": [0, 100], "range": [0, 400]}, "legend": null}}},
            {"transform": [{"filter": "datum.t === 'study'"}],
             "mark": {"type": "circle", "color": "#0000ff", "opacity": 1, "size": 16},
             "encoding": {"x": {"field": "md", "type": "quantitative"},
               "y": {"field": "k", "type": "ordinal", "sort": null}}},
            {"transform": [{"filter": "datum.t === 'pooled'"}, {"calculate": "datum.hi - datum.lo", "as": "ciw"}],
             "mark": {"type": "point", "shape": "M-1,0L0,-0.38L1,0L0,0.38Z", "filled": false, "color": "#ff0000", "strokeWidth": 1.6, "opacity": 1},
             "encoding": {"x": {"field": "md", "type": "quantitative"},
               "y": {"field": "k", "type": "ordinal", "sort": null},
               "size": {"field": "ciw", "type": "quantitative", "scale": {"type": "pow", "exponent": 2, "domain": [0, 100], "range": [0, 4085]}, "legend": null}}}
          ]
        }
      ]
    }
  ],
  "config": {
    "font": "Liberation Sans, Arial, sans-serif",
    "view": {"fill": "white", "stroke": null},
    "axis": {"labelOverlap": false}
  }
}
